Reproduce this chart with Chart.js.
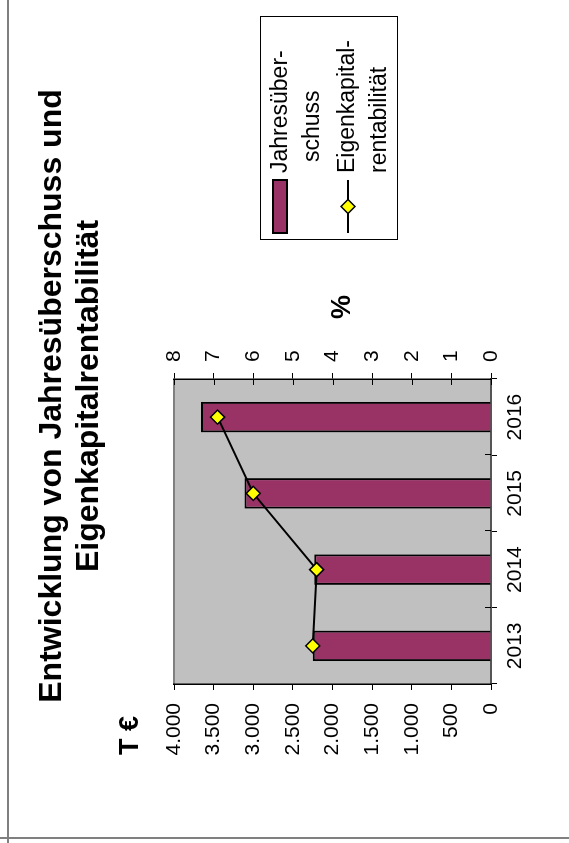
<!DOCTYPE html>
<html lang="de">
<head>
<meta charset="utf-8">
<title>Entwicklung von Jahresüberschuss und Eigenkapitalrentabilität</title>
<script src="https://cdn.jsdelivr.net/npm/chart.js@4/dist/chart.umd.min.js"></script>
<style>
  html, body { margin: 0; padding: 0; background: #fff; }
  body { width: 569px; height: 843px; position: relative; overflow: hidden; }
  /* the chart is printed turned a quarter turn counter-clockwise */
  #turn {
    position: absolute; left: 0; top: 0;
    width: 774px; height: 569px;
    transform-origin: 0 0;
    transform: translate(0px, 783px) rotate(-90deg);
  }
  #frameV { position: absolute; left: 7px; top: 0; width: 2px; height: 843px; background: #7f7f7f; }
  #frameH { position: absolute; left: 0; top: 837px; width: 569px; height: 2px; background: #7f7f7f; }
</style>
</head>
<body>
<div id="turn"><canvas id="chart" width="774" height="569"></canvas></div>
<div id="frameV"></div>
<div id="frameH"></div>
<script>
// Jahre
const years = ['2013', '2014', '2015', '2016'];
// Jahresüberschuss in T €
const surplus = [2250, 2230, 3110, 3660];
// Eigenkapitalrentabilität in %
const equityReturn = [4.5, 4.4, 6.0, 6.9];
// Achsenbeschriftungen
const euroTickLabels = ['0', '500', '1.000', '1.500', '2.000', '2.500', '3.000', '3.500', '4.000'];
const percentTickLabels = ['0', '1', '2', '3', '4', '5', '6', '7', '8'];
// Legendentexte (mit Silbentrennung)
const legendLines = [['Jahresüber-', 'schuss'], ['Eigenkapital-', 'rentabilität']];
const titleLines = ['Entwicklung von Jahresüberschuss und', 'Eigenkapitalrentabilität'];

const FONT = "'Liberation Sans', Arial, Helvetica, sans-serif";
const BAR_COLOR = '#993366';
const MARKER_COLOR = '#ffff00';

// grey plot area with a darker top edge
const plotBackground = {
  id: 'plotBackground',
  beforeDraw(chart) {
    const { ctx, chartArea: { left, top, right, bottom } } = chart;
    ctx.save();
    ctx.fillStyle = '#c0c0c0';
    ctx.fillRect(left, top, right - left, bottom - top);
    ctx.strokeStyle = '#808080';
    ctx.lineWidth = 2;
    ctx.beginPath();
    ctx.moveTo(left, top);
    ctx.lineTo(right, top);
    ctx.stroke();
    ctx.restore();
  }
};

// inner halves of the tick marks on the category axis and the % axis
const crossingTicks = {
  id: 'crossingTicks',
  afterDatasetsDraw(chart) {
    const { ctx, chartArea, scales: { x, y1 } } = chart;
    ctx.save();
    ctx.strokeStyle = '#000';
    ctx.lineWidth = 1;
    ctx.beginPath();
    for (let i = 1; i < years.length; i++) {
      const px = Math.round((x.getPixelForValue(i - 1) + x.getPixelForValue(i)) / 2) + 0.5;
      ctx.moveTo(px, chartArea.bottom);
      ctx.lineTo(px, chartArea.bottom - 6);
    }
    y1.ticks.forEach(t => {
      const py = Math.round(y1.getPixelForValue(t.value)) + 0.5;
      ctx.moveTo(chartArea.right, py);
      ctx.lineTo(chartArea.right - 6, py);
    });
    ctx.stroke();
    ctx.restore();
  }
};

// unit captions and the boxed legend
const captionsAndLegend = {
  id: 'captionsAndLegend',
  afterDraw(chart) {
    const { ctx, chartArea } = chart;
    const bars = chart.data.datasets.find(d => d.type === 'bar');
    const line = chart.data.datasets.find(d => d.type === 'line');
    ctx.save();
    ctx.fillStyle = '#000';
    ctx.font = `bold 27px ${FONT}`;
    ctx.textBaseline = 'alphabetic';
    ctx.textAlign = 'left';
    ctx.fillText('T €', chartArea.left - 71, chartArea.top - 36);
    ctx.textAlign = 'center';
    ctx.fillText('%', chartArea.right + 72, (chartArea.top + chartArea.bottom) / 2 + 17);

    // legend frame
    const lx = chartArea.right + 139, ly = chartArea.top + 86, lw = 223, lh = 137;
    ctx.strokeStyle = '#000';
    ctx.lineWidth = 1;
    ctx.strokeRect(lx + 0.5, ly + 0.5, lw, lh);

    // bar key
    ctx.fillStyle = bars.backgroundColor;
    ctx.fillRect(lx + 7, ly + 13, 53, 14);
    ctx.strokeStyle = bars.borderColor;
    ctx.lineWidth = 2;
    ctx.strokeRect(lx + 7, ly + 13, 53, 14);

    // line key with marker
    const my = ly + 88;
    ctx.strokeStyle = line.borderColor;
    ctx.lineWidth = 2;
    ctx.beginPath();
    ctx.moveTo(lx + 7, my);
    ctx.lineTo(lx + 60, my);
    ctx.stroke();
    const cx = lx + 33.5, r = 7;
    ctx.beginPath();
    ctx.moveTo(cx, my - r);
    ctx.lineTo(cx + r, my);
    ctx.lineTo(cx, my + r);
    ctx.lineTo(cx - r, my);
    ctx.closePath();
    ctx.fillStyle = line.pointBackgroundColor;
    ctx.fill();
    ctx.lineWidth = 1.5;
    ctx.stroke();

    // legend texts
    ctx.fillStyle = '#000';
    ctx.font = `23px ${FONT}`;
    ctx.textAlign = 'left';
    const rows = [
      [{ x: 67, y: 27 }, { x: 78, y: 59 }],
      [{ x: 67, y: 94 }, { x: 67, y: 126 }]
    ];
    legendLines.forEach((lines, i) => {
      lines.forEach((t, j) => ctx.fillText(t, lx + rows[i][j].x, ly + rows[i][j].y));
    });
    ctx.restore();
  }
};

const tickFont = { family: FONT, size: 21 };

new Chart(document.getElementById('chart'), {
  type: 'bar',
  data: {
    labels: years,
    datasets: [
      {
        type: 'line',
        label: 'Eigenkapitalrentabilität',
        data: equityReturn,
        yAxisID: 'y1',
        borderColor: '#000',
        borderWidth: 2,
        tension: 0,
        pointStyle: 'rectRot',
        pointRadius: 7,
        pointBackgroundColor: MARKER_COLOR,
        pointBorderColor: '#000',
        pointBorderWidth: 1.5,
        order: 0
      },
      {
        type: 'bar',
        label: 'Jahresüberschuss',
        data: surplus,
        yAxisID: 'y',
        backgroundColor: BAR_COLOR,
        borderColor: '#000',
        borderWidth: 2,
        categoryPercentage: 1,
        barPercentage: 0.4,
        order: 1
      }
    ]
  },
  options: {
    responsive: false,
    animation: false,
    devicePixelRatio: 1,
    layout: { padding: 0 },
    plugins: {
      legend: { display: false },
      tooltip: { enabled: false },
      title: {
        display: true,
        text: titleLines,
        color: '#000',
        font: { family: FONT, size: 32, weight: 'bold', lineHeight: 1.172 },
        padding: { top: 33, bottom: 66 }
      }
    },
    scales: {
      x: {
        offset: true,
        grid: { display: true, drawOnChartArea: false, drawTicks: true, tickLength: 6, color: '#000', offset: true },
        border: { display: true, color: '#555', width: 2 },
        ticks: { font: tickFont, color: '#000', padding: 6, maxRotation: 0 },
        afterFit(scale) { scale.height = 78; }
      },
      y: {
        position: 'left',
        min: 0,
        max: 4000,
        grid: { drawOnChartArea: false, drawTicks: true, tickLength: 6, color: '#000' },
        border: { display: true, color: '#000', width: 1.5 },
        ticks: {
          stepSize: 500,
          font: tickFont,
          color: '#000',
          padding: 13,
          callback: (value, index) => euroTickLabels[index]
        },
        afterFit(scale) { scale.width = 99; }
      },
      y1: {
        position: 'right',
        min: 0,
        max: 8,
        grid: { drawOnChartArea: false, drawTicks: true, tickLength: 6, color: '#000' },
        border: { display: true, color: '#000', width: 1.5 },
        ticks: {
          stepSize: 1,
          font: tickFont,
          color: '#000',
          padding: 11,
          callback: (value, index) => percentTickLabels[index]
        },
        afterFit(scale) { scale.width = 370; }
      }
    }
  },
  plugins: [plotBackground, crossingTicks, captionsAndLegend]
});
</script>
</body>
</html>
